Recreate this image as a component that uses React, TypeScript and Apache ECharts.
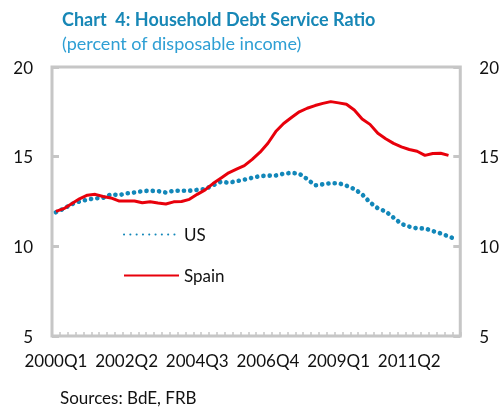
import React, { useEffect, useRef } from "react";
import * as echarts from "echarts";

const quarters: string[] = [];
for (let y = 2000; y <= 2012; y++) for (let q = 1; q <= 4; q++) quarters.push(`${y}Q${q}`);

const usValues = [
  11.9, 12.1, 12.35, 12.5, 12.6, 12.68, 12.7, 12.9, 12.85, 12.95,
  13.0, 13.08, 13.1, 13.08, 13.0, 13.1, 13.1, 13.1, 13.15, 13.2,
  13.4, 13.6, 13.55, 13.63, 13.72, 13.82, 13.92, 13.94, 13.95, 14.05,
  14.1, 14.05, 13.75, 13.4, 13.46, 13.52, 13.52, 13.38, 13.2, 12.9,
  12.45, 12.12, 11.95, 11.6, 11.25, 11.1, 11.0, 11.0, 10.85, 10.72,
  10.56, 10.38,
];

const spainValues = [
  11.95, 12.1, 12.38, 12.65, 12.85, 12.9, 12.78, 12.7, 12.53, 12.53,
  12.53, 12.43, 12.49, 12.42, 12.36, 12.48, 12.5, 12.62, 12.9, 13.15,
  13.5, 13.8, 14.1, 14.3, 14.5, 14.85, 15.25, 15.75, 16.4, 16.85,
  17.18, 17.5, 17.7, 17.85, 17.97, 18.07, 18.0, 17.92, 17.6, 17.1,
  16.8, 16.3, 16.0, 15.74, 15.55, 15.4, 15.3, 15.07, 15.18, 15.19,
  15.07,
];

const FONT = "Lato";
const GRAY = "#c6c6c6";

export default function App() {
  const ref = useRef<HTMLDivElement>(null);
  useEffect(() => {
    if (!ref.current) return;
    const chart = echarts.init(ref.current, undefined, { renderer: "svg" });
    const yAxisBase = {
      type: "value",
      min: 5,
      max: 20,
      interval: 5,
      splitLine: { show: false },
      axisLine: { show: false },
      axisTick: { show: true, inside: true, length: 7, lineStyle: { color: GRAY, width: 3 } },
      axisLabel: { fontFamily: FONT, fontSize: 17, color: "#111", margin: 19 },
    };
    chart.setOption({
      animation: false,
      textStyle: { fontFamily: FONT },
      title: {
        text: "Chart  4: Household Debt Service Ratio",
        subtext: "(percent of disposable income)",
        left: 62,
        top: 10,
        padding: 0,
        itemGap: 6,
        textStyle: { fontFamily: FONT, fontSize: 18, fontWeight: "bold", color: "#1787b6" },
        subtextStyle: { fontFamily: FONT, fontSize: 18, color: "#2e9fd4" },
      },
      grid: {
        left: 52,
        right: 40,
        top: 67,
        bottom: 72,
        show: true,
        borderColor: GRAY,
        borderWidth: 3,
      },
      legend: {
        orient: "vertical",
        left: 123,
        top: 226,
        padding: 0,
        itemWidth: 55,
        itemHeight: 14,
        itemGap: 24,
        itemStyle: { opacity: 0 },
        textStyle: { fontFamily: FONT, fontSize: 17, color: "#111" },
        data: ["US", "Spain"],
      },
      xAxis: {
        type: "category",
        data: quarters,
        boundaryGap: true,
        axisLine: { show: false },
        axisTick: { show: true, inside: true, length: 4, interval: 0, lineStyle: { color: GRAY, width: 1.5 } },
        axisLabel: { interval: 8, fontFamily: FONT, fontSize: 17, color: "#111", margin: 16 },
      },
      yAxis: [
        { ...yAxisBase, position: "left" },
        { ...yAxisBase, position: "right" },
      ],
      series: [
        {
          name: "US",
          type: "line",
          data: usValues,
          symbol: "none",
          lineStyle: { color: "#1287b9", width: 4.6, type: [0.1, 6.2], cap: "round" },
          itemStyle: { color: "#1287b9" },
        },
        {
          name: "Spain",
          type: "line",
          data: spainValues,
          symbol: "none",
          lineStyle: { color: "#e8000b", width: 3 },
          itemStyle: { color: "#e8000b" },
        },
      ],
      graphic: [
        {
          type: "text",
          left: 60,
          top: 389,
          style: { text: "Sources: BdE, FRB", fontFamily: FONT, fontSize: 17, fill: "#111" },
        },
      ],
    });
    return () => chart.dispose();
  }, []);
  return (
    <div
      ref={ref}
      style={{ position: "fixed", left: 0, top: 0, width: 502, height: 408 }}
    />
  );
}
